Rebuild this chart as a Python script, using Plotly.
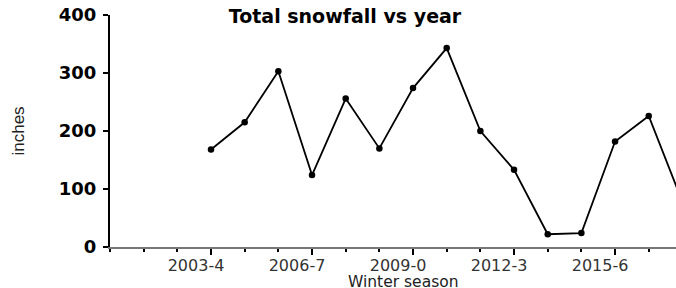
import plotly.graph_objects as go

# Season start years (x) and total snowfall in inches (y)
season_start = [2003, 2004, 2005, 2006, 2007, 2008, 2009, 2010, 2011,
                2012, 2013, 2014, 2015, 2016, 2017]
snowfall_in = [168, 215, 303, 124, 256, 170, 274, 343, 200,
               133, 22, 24, 182, 226, 78]

tick_years = [2003, 2006, 2009, 2012, 2015]
tick_labels = ["2003-4", "2006-7", "2009-0", "2012-3", "2015-6"]
y_ticks = [0, 100, 200, 300, 400]

title_text = "Total snowfall vs year"
x_title = "Winter season"
y_title = "inches"

fig = go.Figure()
fig.add_trace(go.Scatter(
    x=season_start, y=snowfall_in,
    mode="lines+markers",
    line=dict(color="black", width=1.8),
    marker=dict(color="black", size=6.5),
    showlegend=False,
))

fig.update_layout(
    width=676, height=288,
    margin=dict(l=110, r=0, t=15, b=41, autoexpand=False),
    paper_bgcolor="white", plot_bgcolor="white",
    title=dict(text=title_text, x=345 / 676, xanchor="center",
               y=1 - 16 / 288, yanchor="middle", yref="container",
               font=dict(family="DejaVu Sans", size=19, color="black",
                         weight="bold")),
    annotations=[dict(text=x_title, xref="paper", yref="paper",
                      x=0.519, y=-0.15, xanchor="center", yanchor="middle",
                      showarrow=False, borderpad=0,
                      font=dict(family="DejaVu Sans", size=15.5, color="#222"))],
)

fig.update_xaxes(
    range=[2000, 2016.81], automargin=False,
    tickmode="array", tickvals=tick_years, ticktext=tick_labels,
    ticks="outside", ticklen=6, tickwidth=1.5, tickcolor="black",
    ticklabelshift=-15, ticklabelstandoff=-3,
    tickfont=dict(family="DejaVu Sans", size=16, color="#333"),
    minor=dict(ticks="outside", ticklen=3, tickwidth=1.5, tickcolor="black",
               tick0=2000, dtick=1),
    showline=True, linecolor="#777", linewidth=2,
    showgrid=False, zeroline=False,
)

fig.update_yaxes(
    range=[0, 400], automargin=False,
    tickmode="array", tickvals=y_ticks,
    ticks="outside", ticklen=5, tickwidth=1.5, tickcolor="black",
    ticklabelstandoff=3,
    tickfont=dict(family="DejaVu Sans", size=18, color="black", weight="bold"),
    showline=True, linecolor="black", linewidth=2,
    showgrid=False, zeroline=False,
    title=dict(text=y_title, standoff=30,
               font=dict(family="Liberation Sans Narrow, Liberation Sans",
                         size=17, color="#222")),
)

fig.write_html("out.html",
               config={"displayModeBar": False},
               post_script="document.body.style.margin='0';")
